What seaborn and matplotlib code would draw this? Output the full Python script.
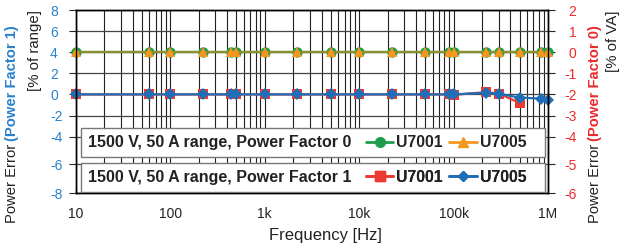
import numpy as np
import seaborn as sns
import matplotlib.pyplot as plt
from matplotlib.lines import Line2D
from matplotlib.patches import Rectangle
from matplotlib.ticker import LogLocator, NullFormatter
from matplotlib.transforms import IdentityTransform

# frequencies [Hz]
freq = [10, 60, 100, 220, 440, 500, 1e3, 2.2e3, 5e3, 1e4, 2.2e4, 5e4, 9e4, 1e5,
        2.2e5, 3e5, 5e5, 8.5e5, 1e6]

# power factor 0 -> right axis [% of VA]
pf0_u7001 = [0, 0, 0, 0, 0, 0, 0, 0, 0, 0, 0, 0, 0, 0, 0, 0, 0, 0, 0]
pf0_u7005 = [0, 0, 0, 0, 0, 0, 0, 0, 0, 0, 0, 0, 0, 0, 0, 0, 0, 0, 0]

# power factor 1 -> left axis [% of range]
pf1_u7001 = [0, 0, 0, 0, 0, 0, 0, 0, 0, 0, 0, 0, 0, -0.05, 0.22, 0.08, -0.8]
pf1_u7005 = [0, 0, 0, 0, 0, 0, 0, 0, 0, 0, 0, 0, 0, 0, 0.16, 0.06, -0.3, -0.4, -0.52]

left_ticks = [-8, -6, -4, -2, 0, 2, 4, 6, 8]
right_ticks = [-6, -5, -4, -3, -2, -1, 0, 1, 2]
xticks = [10, 100, 1e3, 1e4, 1e5, 1e6]
xlabels = ["10", "100", "1k", "10k", "100k", "1M"]

# the original y axis is not evenly spaced at the bottom
tick_px = np.array([193.3, 164, 136.6, 115.5, 94.4, 73.3, 52.2, 31.1, 10])

GREEN = "#1e9e4c"
ORANGE = "#f5961e"
OLIVE = "#8e8e2c"
RED = "#ec3b33"
BLUE = "#1f6fb8"
TICK_BLUE = "#2a82cc"
TICK_RED = "#ec2a2e"
INK = "#222222"

sns.set_style("ticks")
plt.rcParams["font.family"] = ["Liberation Sans", "DejaVu Sans"]
plt.rcParams["axes.unicode_minus"] = False

fig = plt.figure(figsize=(6.21, 2.47), dpi=100)
ax = fig.add_axes([76 / 621, (247 - 193.3) / 247, 472 / 621, 183.3 / 247])
ax2 = ax.twinx()

ax.set_yscale("function", functions=(lambda v: np.interp(v, left_ticks, -tick_px),
                                     lambda p: np.interp(p, -tick_px, left_ticks)))
ax2.set_yscale("function", functions=(lambda v: np.interp(v, right_ticks, -tick_px),
                                      lambda p: np.interp(p, -tick_px, right_ticks)))
ax.set_ylim(-8, 8)
ax2.set_ylim(-6, 2)
ax.set_xscale("log")
ax.set_xlim(10, 1e6)

# power factor 1 (left)
sns.lineplot(x=freq[:len(pf1_u7001)], y=pf1_u7001, ax=ax, color=RED, marker="s",
             markersize=7.5, mec=RED, mew=0, lw=1.6, clip_on=False, legend=False)
sns.lineplot(x=freq, y=pf1_u7005, ax=ax, color=BLUE, marker="D",
             markersize=6, mec=BLUE, mew=0, lw=1.6, clip_on=False, legend=False)

# power factor 0 (right)
sns.lineplot(x=freq, y=pf0_u7001, ax=ax2, color=GREEN, marker="o",
             markersize=7.5, mec=GREEN, mew=0, lw=1.6, clip_on=False, legend=False)
sns.lineplot(x=freq, y=pf0_u7005, ax=ax2, color=OLIVE, marker="^", mfc=ORANGE,
             markersize=7, mec=ORANGE, mew=0, lw=1.6, clip_on=False, legend=False)

ax.set_xticks(xticks, xlabels)
ax.xaxis.set_minor_locator(LogLocator(subs=range(2, 10), numticks=20))
ax.xaxis.set_minor_formatter(NullFormatter())
ax.tick_params(axis="x", which="both", direction="in", labelsize=10, pad=10,
               color="black", labelcolor=INK)
ax.tick_params(axis="x", which="major", length=4)
ax.tick_params(axis="x", which="minor", length=3)

ax.set_yticks(left_ticks, [str(v) for v in left_ticks], ha="left")
ax.tick_params(axis="y", direction="out", length=5, pad=13.7, labelsize=10,
               labelcolor=TICK_BLUE)
ax2.set_yticks(right_ticks, [str(v) for v in right_ticks], ha="right")
ax2.tick_params(axis="y", direction="out", length=5, pad=15.5, labelsize=10,
                labelcolor=TICK_RED)

ax.grid(True, which="both", axis="x", color="#222222", lw=0.8)
ax.grid(True, which="major", axis="y", color="#444444", lw=0.9)
ax.set_axisbelow(True)
ax.set_xlabel("")
ax.set_ylabel("")
ax2.set_ylabel("")
for a in (ax, ax2):
    for s in a.spines.values():
        s.set_color("black")
        s.set_linewidth(1)

# legend boxes
boxes = [
    (0.198, 0.3546, "1500 V, 50 A range, Power Factor 0",
     [Line2D([], [], color=GREEN, marker="o", ms=7, lw=2),
      Line2D([], [], color=ORANGE, marker="^", ms=7, lw=2)]),
    (0.0087, 0.167, "1500 V, 50 A range, Power Factor 1",
     [Line2D([], [], color=RED, marker="s", ms=7, lw=2),
      Line2D([], [], color=BLUE, marker="D", ms=5.5, lw=2)]),
]
for y0, y1, title, handles in boxes:
    ax2.add_patch(Rectangle((0.0106, y0), 0.983, y1 - y0, transform=ax2.transAxes,
                            facecolor="white", edgecolor="#777777", lw=1, zorder=6))
    yc = (y0 + y1) / 2
    ax2.text(0.0254, yc, title, transform=ax2.transAxes, fontsize=11.5,
             fontweight="bold", color=INK, va="center", ha="left", zorder=7)
    leg = ax2.legend(handles=handles, labels=["U7001", "U7005"], loc="center left",
                     bbox_to_anchor=(0.614, yc), frameon=False, ncol=2,
                     handlelength=1.75, handletextpad=0.2, columnspacing=0.4,
                     borderpad=0, borderaxespad=0,
                     prop=dict(weight="bold", size=11.3))
    for t in leg.get_texts():
        t.set_color(INK)
    leg.set_zorder(7)
    ax2.add_artist(leg)

# axis titles
fig.text(325.5, 12, "Frequency [Hz]", transform=IdentityTransform(), fontsize=12,
         ha="center", va="center", color=INK)

renderer = fig.canvas.get_renderer()


def stacked_label(x, y, parts, size=10.6):
    for text, color, weight in parts:
        t = fig.text(x, y, text, transform=IdentityTransform(), rotation=90,
                     fontsize=size, color=color, fontweight=weight,
                     ha="center", va="bottom")
        y = t.get_window_extent(renderer).y1 + 3


stacked_label(12.5, 24, [("Power Error", INK, "normal"),
                         ("(Power Factor 1)", TICK_BLUE, "bold")])
stacked_label(595, 24, [("Power Error", INK, "normal"),
                        ("(Power Factor 0)", TICK_RED, "bold")])
fig.text(34.5, 237, "[% of range]", transform=IdentityTransform(), rotation=90,
         fontsize=10.8, color=INK, ha="center", va="top")
fig.text(613.5, 237, "[% of VA]", transform=IdentityTransform(), rotation=90,
         fontsize=10.8, color=INK, ha="center", va="top")

fig.savefig("out.png", dpi=100)
